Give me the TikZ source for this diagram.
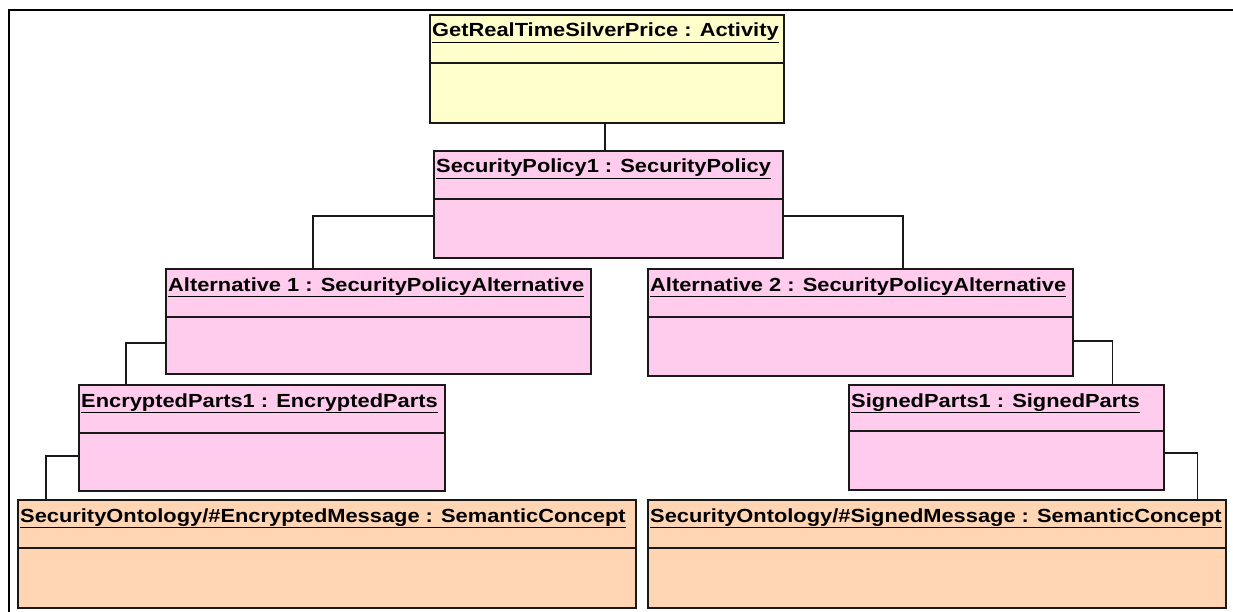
\documentclass[tikz,border=0pt]{standalone}
\usepackage{fontspec}
\setmainfont[FakeStretch=1.15]{Liberation Sans}
\usepackage{tikz}
\usetikzlibrary{positioning}
\definecolor{actyellow}{HTML}{FFFFCC}
\definecolor{polpink}{HTML}{FFCCEE}
\definecolor{conpeach}{HTML}{FFD5B4}
\tikzstyle{obj} = [draw=black!90,line width=1.7pt,anchor=north west,inner sep=0pt,minimum height=107pt]
\tikzstyle{objname} = [anchor=base west,inner sep=0pt,font=\bfseries\fontsize{19}{19}\selectfont]
\tikzstyle{sep} = [draw=black!90,line width=1.7pt]
\tikzstyle{link} = [draw=black!90,line width=1.5pt]

\begin{document}
\begin{tikzpicture}[x=1pt,y=-1pt]
	\useasboundingbox (0,0) rectangle (1233,612);
	\coordinate (frameCorner) at (9,10);
	\coordinate (frameRight) at (1233,10);
	\coordinate (frameBottom) at (9,612);
	\draw[line width=1.8pt] (frameRight) -- (frameCorner) -- (frameBottom);

	%Nodes
	\node[obj,fill=actyellow,minimum width=354pt,minimum height=108pt] (activity) at (429,14) {};
	\node[obj,fill=polpink,minimum width=349pt] (policy) at (433,150) {};
	\node[obj,fill=polpink,minimum width=425pt,minimum height=105pt] (alt1) at (165,268) {};
	\node[obj,fill=polpink,minimum width=425pt] (alt2) at (647,268) {};
	\node[obj,fill=polpink,minimum width=366pt,minimum height=106pt] (encParts) at (78,384) {};
	\node[obj,fill=polpink,minimum width=315pt,minimum height=105pt] (signParts) at (848,384) {};
	\node[obj,fill=conpeach,minimum width=618pt,minimum height=108pt] (encMsg) at (17,499) {};
	\node[obj,fill=conpeach,minimum width=578pt,minimum height=108pt] (signMsg) at (647,499) {};

	%Names
	\node[objname] (activityName) at ([xshift=3pt,yshift=-23pt]activity.north west) {\underline{GetRealTimeSilverPrice : Activity}};
	\node[objname] (policyName) at ([xshift=3pt,yshift=-23pt]policy.north west) {\underline{SecurityPolicy1 : SecurityPolicy}};
	\node[objname] (alt1Name) at ([xshift=3pt,yshift=-23pt]alt1.north west) {\underline{Alternative 1 : SecurityPolicyAlternative}};
	\node[objname] (alt2Name) at ([xshift=3pt,yshift=-23pt]alt2.north west) {\underline{Alternative 2 : SecurityPolicyAlternative}};
	\node[objname] (encPartsName) at ([xshift=3pt,yshift=-23pt]encParts.north west) {\underline{EncryptedParts1 : EncryptedParts}};
	\node[objname] (signPartsName) at ([xshift=3pt,yshift=-23pt]signParts.north west) {\underline{SignedParts1 : SignedParts}};
	\node[objname] (encMsgName) at ([xshift=3pt,yshift=-23pt]encMsg.north west) {\underline{SecurityOntology/\#EncryptedMessage : SemanticConcept}};
	\node[objname] (signMsgName) at ([xshift=3pt,yshift=-23pt]signMsg.north west) {\underline{SecurityOntology/\#SignedMessage : SemanticConcept}};

	%Separators
	\draw[sep] ([yshift=-49pt]activity.north west) -- ([yshift=-49pt]activity.north east);
	\draw[sep] ([yshift=-49pt]policy.north west) -- ([yshift=-49pt]policy.north east);
	\draw[sep] ([yshift=-49pt]alt1.north west) -- ([yshift=-49pt]alt1.north east);
	\draw[sep] ([yshift=-49pt]alt2.north west) -- ([yshift=-49pt]alt2.north east);
	\draw[sep] ([yshift=-49pt]encParts.north west) -- ([yshift=-49pt]encParts.north east);
	\draw[sep] ([yshift=-47pt]signParts.north west) -- ([yshift=-47pt]signParts.north east);
	\draw[sep] ([yshift=-49pt]encMsg.north west) -- ([yshift=-49pt]encMsg.north east);
	\draw[sep] ([yshift=-49pt]signMsg.north west) -- ([yshift=-49pt]signMsg.north east);

	%Lines
	\draw[link] ([xshift=-2pt]activity.south) -- ([xshift=-2pt]activity.south |- policy.north);
	\draw[link] ([yshift=-66pt]policy.north west) -| ([xshift=148pt]alt1.north west);
	\draw[link] ([yshift=-66pt]policy.north east) -| ([xshift=256pt]alt2.north west);
	\draw[link] ([yshift=-75pt]alt1.north west) -| ([xshift=48pt]encParts.north west);
	\draw[link] ([yshift=-73pt]alt2.north east) -| ([xshift=-52pt]signParts.north east);
	\draw[link] ([yshift=-72pt]encParts.north west) -| ([xshift=29pt]encMsg.north west);
	\draw[link] ([yshift=-69pt]signParts.north east) -| ([xshift=-29pt]signMsg.north east);
\end{tikzpicture}
\end{document}
